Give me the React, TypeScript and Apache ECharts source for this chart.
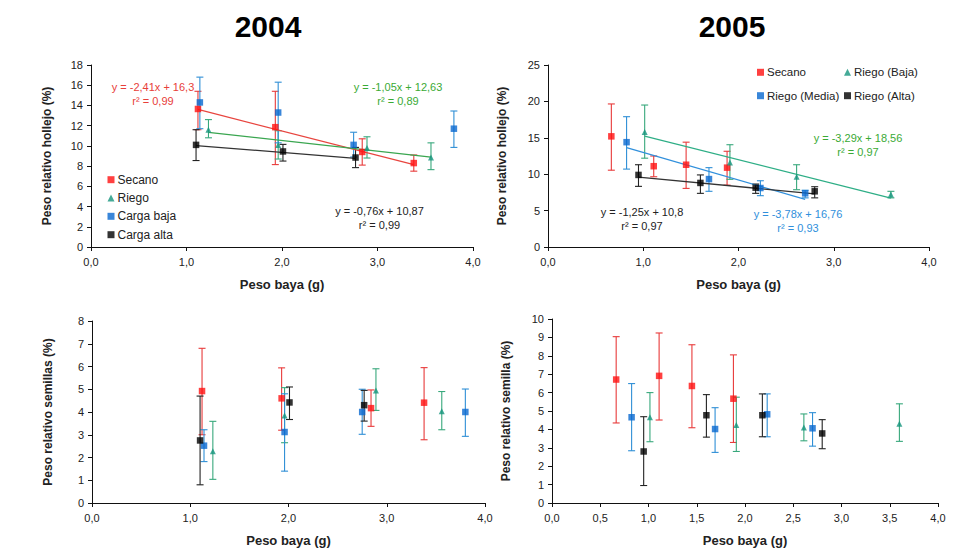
import React, { useEffect, useRef } from "react";
import * as echarts from "echarts";

// ---------- 2004 : x (peso baya, g) ----------
const x04Secano = [1.12, 1.93, 2.84, 3.38];
const x04Riego = [1.23, 1.96, 2.89, 3.56];
const x04Baja = [1.14, 1.96, 2.75, 3.8];
const x04Alta = [1.1, 2.01, 2.77];

// 2004 hollejo
const h04SecanoY = [13.65, 11.85, 9.4, 8.3];
const h04SecanoLo = [11.6, 8.15, 8.1, 7.5];
const h04SecanoHi = [15.4, 15.4, 10.7, 9.1];
const h04RiegoY = [11.6, 10.1, 9.8, 8.85];
const h04RiegoLo = [10.8, 8.7, 8.8, 7.65];
const h04RiegoHi = [12.6, 11.5, 10.9, 10.3];
const h04BajaY = [14.3, 13.3, 10.1, 11.7];
const h04BajaLo = [11.7, 10.3, 8.9, 9.85];
const h04BajaHi = [16.8, 16.3, 11.35, 13.45];
const h04AltaY = [10.1, 9.45, 8.85];
const h04AltaLo = [8.55, 8.5, 7.85];
const h04AltaHi = [11.6, 10.15, 9.85];
const t04Secano = [[1.12, 13.6], [3.38, 8.15]];
const t04Riego = [[1.23, 11.34], [3.56, 8.89]];
const t04Alta = [[1.1, 10.03], [2.77, 8.77]];

// 2004 semillas
const s04SecanoY = [4.92, 4.6, 4.17, 4.41];
const s04SecanoLo = [3.0, 3.2, 3.37, 2.78];
const s04SecanoHi = [6.8, 5.94, 4.97, 5.95];
const s04RiegoY = [2.27, 3.85, 4.95, 4.03];
const s04RiegoLo = [1.04, 2.65, 4.07, 3.22];
const s04RiegoHi = [3.59, 5.07, 5.9, 4.9];
const s04BajaY = [2.52, 3.12, 4.0, 4.0];
const s04BajaLo = [1.82, 1.4, 3.02, 2.93];
const s04BajaHi = [3.22, 4.8, 5.0, 5.01];
const s04AltaY = [2.75, 4.42, 4.3];
const s04AltaLo = [0.8, 3.67, 3.6];
const s04AltaHi = [4.7, 5.1, 4.95];

// ---------- 2005 : x (peso baya, g) ----------
const x05Secano = [0.665, 1.11, 1.45, 1.88];
const x05Baja = [1.015, 1.91, 2.61, 3.6];
const x05Media = [0.825, 1.69, 2.23, 2.7];
const x05Alta = [0.95, 1.6, 2.18, 2.8];

// 2005 hollejo
const h05SecanoY = [15.2, 11.1, 11.3, 10.9];
const h05SecanoLo = [10.55, 9.65, 8.05, 8.5];
const h05SecanoHi = [19.65, 12.5, 14.4, 13.15];
const h05BajaY = [15.8, 11.6, 9.65, 7.2];
const h05BajaLo = [12.2, 9.3, 7.87, 6.75];
const h05BajaHi = [19.5, 14.05, 11.3, 7.65];
const h05MediaY = [14.4, 9.33, 8.1, 7.37];
const h05MediaLo = [10.7, 7.65, 7.05, 6.75];
const h05MediaHi = [17.9, 10.9, 9.1, 7.8];
const h05AltaY = [9.9, 8.8, 8.15, 7.65];
const h05AltaLo = [8.33, 7.37, 7.37, 6.75];
const h05AltaHi = [11.3, 9.9, 8.65, 8.28];
const t05Baja = [[1.015, 15.22], [3.6, 6.72]];
const t05Media = [[0.825, 13.64], [2.7, 6.55]];
const t05Alta = [[0.95, 9.61], [2.8, 7.3]];

// 2005 semilla
const s05SecanoY = [6.71, 6.91, 6.36, 5.67];
const s05SecanoLo = [4.35, 4.51, 4.09, 3.29];
const s05SecanoHi = [9.04, 9.24, 8.6, 8.05];
const s05BajaY = [4.66, 4.24, 4.1, 4.31];
const s05BajaLo = [3.33, 2.8, 3.38, 3.35];
const s05BajaHi = [6.0, 5.75, 4.84, 5.39];
const s05MediaY = [4.66, 4.02, 4.82, 4.06];
const s05MediaLo = [2.84, 2.75, 3.6, 3.09];
const s05MediaHi = [6.49, 5.18, 5.93, 4.91];
const s05AltaY = [2.8, 4.77, 4.77, 3.78];
const s05AltaLo = [0.95, 3.58, 3.6, 2.95];
const s05AltaHi = [4.69, 5.89, 5.93, 4.53];

// ---------- texts ----------
const titles = ["2004", "2005"];
const xName = "Peso baya (g)";
const yNames = [
  "Peso relativo hollejo (%)",
  "Peso relativo hollejo (%)",
  "Peso relativo semillas (%)",
  "Peso relativo semilla (%)",
];
const eq04Secano = ["y = -2,41x + 16,3", "r² = 0,99"];
const eq04Riego = ["y = -1,05x + 12,63", "r² = 0,89"];
const eq04Alta = ["y = -0,76x + 10,87", "r² = 0,99"];
const eq05Baja = ["y = -3,29x + 18,56", "r² = 0,97"];
const eq05Media = ["y = -3,78x + 16,76", "r² = 0,93"];
const eq05Alta = ["y = -1,25x + 10,8", "r² = 0,97"];

// ---------- styles ----------
const FONT = "'Liberation Sans', Arial, sans-serif";
const RED = { mark: "#ff1010", err: "#e83a3a", line: "#e8453f", text: "#e8403a" };
const GREEN = { mark: "#15957d", err: "#38a87c", line: "#3aa650", text: "#3aaa35" };
const GREEN5 = { mark: "#15957d", err: "#38a87c", line: "#2eae86", text: "#3aaa35" };
const BLUE = { mark: "#0868d0", err: "#2f8fd6", line: "#3190dc", text: "#2f8fdc" };
const BLACK = { mark: "#000000", err: "#222222", line: "#333333", text: "#222222" };

const fmt1 = (v: number) => v.toFixed(1).replace(".", ",");

function errRender(color: string) {
  return (params: any, api: any) => {
    const x = api.value(0);
    const lo = api.coord([x, api.value(1)]);
    const hi = api.coord([x, api.value(2)]);
    const w = 3.5;
    const style = { stroke: color, lineWidth: 1.1 };
    return {
      type: "group",
      children: [
        { type: "line", shape: { x1: lo[0], y1: lo[1], x2: hi[0], y2: hi[1] }, style },
        { type: "line", shape: { x1: hi[0] - w, y1: hi[1], x2: hi[0] + w, y2: hi[1] }, style },
        { type: "line", shape: { x1: lo[0] - w, y1: lo[1], x2: lo[0] + w, y2: lo[1] }, style },
      ],
    };
  };
}

function group(
  panel: number,
  name: string,
  xs: number[],
  ys: number[],
  lo: number[],
  hi: number[],
  sty: any,
  symbol: string
) {
  return [
    {
      type: "custom",
      xAxisIndex: panel,
      yAxisIndex: panel,
      renderItem: errRender(sty.err),
      encode: { x: 0, y: [1, 2] },
      data: xs.map((x, i) => [x, lo[i], hi[i]]),
      z: 2,
      silent: true,
    },
    {
      type: "scatter",
      name,
      xAxisIndex: panel,
      yAxisIndex: panel,
      symbol,
      symbolSize: symbol === "triangle" ? 6 : 6.5,
      itemStyle: { color: sty.mark },
      data: xs.map((x, i) => [x, ys[i]]),
      z: 4,
    },
  ];
}

function trend(panel: number, pts: number[][], color: string) {
  return {
    type: "line",
    xAxisIndex: panel,
    yAxisIndex: panel,
    data: pts,
    showSymbol: false,
    symbol: "none",
    lineStyle: { color, width: 1.3 },
    z: 3,
    silent: true,
  };
}

const grids = [
  { left: 91, top: 65, width: 382, height: 182 },
  { left: 548, top: 65, width: 381, height: 182 },
  { left: 92, top: 321, width: 393, height: 182 },
  { left: 552, top: 319, width: 386, height: 184 },
];
const yMax = [18, 25, 8, 10];
const yInt = [2, 5, 1, 1];
const xInt = [1, 1, 1, 0.5];
const yGap = [38, 40, 38, 40];

const axisLine = { show: true, onZero: false, lineStyle: { color: "#111", width: 1 } };
const axisTick = { show: true, length: 4, lineStyle: { color: "#111" } };

const xAxes = grids.map((_, i) => ({
  type: "value",
  gridIndex: i,
  min: 0,
  max: 4,
  interval: xInt[i],
  name: xName,
  nameLocation: "middle",
  nameGap: 31,
  nameTextStyle: { fontWeight: "bold", fontSize: 13, color: "#222", fontFamily: FONT },
  axisLine,
  axisTick,
  splitLine: { show: false },
  axisLabel: { fontSize: 11, color: "#222", margin: 9, formatter: fmt1, fontFamily: FONT },
}));

const yAxes = grids.map((_, i) => ({
  type: "value",
  gridIndex: i,
  min: 0,
  max: yMax[i],
  interval: yInt[i],
  name: yNames[i],
  nameLocation: "middle",
  nameGap: yGap[i],
  nameTextStyle: { fontWeight: "bold", fontSize: 12, color: "#222", fontFamily: FONT },
  axisLine,
  axisTick,
  splitLine: { show: false },
  axisLabel: { fontSize: 11, color: "#222", margin: 8, fontFamily: FONT },
}));

const series: any[] = [
  // panel 0: 2004 hollejo
  ...group(0, "Secano", x04Secano, h04SecanoY, h04SecanoLo, h04SecanoHi, RED, "rect"),
  ...group(0, "Riego", x04Riego, h04RiegoY, h04RiegoLo, h04RiegoHi, GREEN, "triangle"),
  ...group(0, "Carga baja", x04Baja, h04BajaY, h04BajaLo, h04BajaHi, BLUE, "rect"),
  ...group(0, "Carga alta", x04Alta, h04AltaY, h04AltaLo, h04AltaHi, BLACK, "rect"),
  trend(0, t04Secano, RED.line),
  trend(0, t04Riego, GREEN.line),
  trend(0, t04Alta, BLACK.line),
  // panel 1: 2005 hollejo
  ...group(1, "Secano", x05Secano, h05SecanoY, h05SecanoLo, h05SecanoHi, RED, "rect"),
  ...group(1, "Riego (Baja)", x05Baja, h05BajaY, h05BajaLo, h05BajaHi, GREEN5, "triangle"),
  ...group(1, "Riego (Media)", x05Media, h05MediaY, h05MediaLo, h05MediaHi, BLUE, "rect"),
  ...group(1, "Riego (Alta)", x05Alta, h05AltaY, h05AltaLo, h05AltaHi, BLACK, "rect"),
  trend(1, t05Baja, GREEN5.line),
  trend(1, t05Media, BLUE.line),
  trend(1, t05Alta, BLACK.line),
  // panel 2: 2004 semillas
  ...group(2, "Secano", x04Secano, s04SecanoY, s04SecanoLo, s04SecanoHi, RED, "rect"),
  ...group(2, "Riego", x04Riego, s04RiegoY, s04RiegoLo, s04RiegoHi, GREEN, "triangle"),
  ...group(2, "Carga baja", x04Baja, s04BajaY, s04BajaLo, s04BajaHi, BLUE, "rect"),
  ...group(2, "Carga alta", x04Alta, s04AltaY, s04AltaLo, s04AltaHi, BLACK, "rect"),
  // panel 3: 2005 semilla
  ...group(3, "Secano", x05Secano, s05SecanoY, s05SecanoLo, s05SecanoHi, RED, "rect"),
  ...group(3, "Riego (Baja)", x05Baja, s05BajaY, s05BajaLo, s05BajaHi, GREEN5, "triangle"),
  ...group(3, "Riego (Media)", x05Media, s05MediaY, s05MediaLo, s05MediaHi, BLUE, "rect"),
  ...group(3, "Riego (Alta)", x05Alta, s05AltaY, s05AltaLo, s05AltaHi, BLACK, "rect"),
];

const legendSpots: [string, number, number, number][] = [
  ["Secano", 107.5, 173.7, 12],
  ["Riego", 107.5, 192, 12],
  ["Carga baja", 107.5, 210.3, 12],
  ["Carga alta", 107.5, 228.7, 12],
  ["Secano", 757, 66.3, 11.5],
  ["Riego (Baja)", 844, 66.3, 11.5],
  ["Riego (Media)", 757, 89.7, 11.5],
  ["Riego (Alta)", 844, 89.7, 11.5],
];

const legends = legendSpots.map(([name, left, top, fs]) => ({
  data: [name],
  left,
  top,
  padding: 0,
  itemWidth: 7,
  itemHeight: 7,
  selectedMode: false,
  textStyle: { fontSize: fs, color: "#222", fontFamily: FONT, padding: [0, 0, 0, -2] },
}));

function eqText(lines: string[], x: number, y: number, color: string) {
  return lines.map((t, i) => ({
    type: "text",
    x,
    y: y + i * 13.5,
    silent: true,
    style: {
      text: t,
      fill: color,
      font: `11px ${FONT}`,
      textAlign: "center",
      textVerticalAlign: "middle",
    },
  }));
}

const graphics: any[] = [
  {
    type: "text",
    x: 268,
    y: 26,
    style: { text: titles[0], fill: "#000", font: `bold 30px ${FONT}`, textAlign: "center", textVerticalAlign: "middle" },
  },
  {
    type: "text",
    x: 732,
    y: 26,
    style: { text: titles[1], fill: "#000", font: `bold 30px ${FONT}`, textAlign: "center", textVerticalAlign: "middle" },
  },
  ...eqText(eq04Secano, 153, 87.3, RED.text),
  ...eqText(eq04Riego, 398, 87.3, GREEN.text),
  ...eqText(eq04Alta, 379.5, 211, BLACK.text),
  ...eqText(eq05Baja, 858, 138.3, GREEN.text),
  ...eqText(eq05Media, 798, 214.3, BLUE.text),
  ...eqText(eq05Alta, 642, 212.3, BLACK.text),
];

const option: any = {
  animation: false,
  backgroundColor: "#ffffff",
  textStyle: { fontFamily: FONT },
  grid: grids,
  xAxis: xAxes,
  yAxis: yAxes,
  legend: legends,
  series,
  graphic: graphics,
};

export default function App() {
  const ref = useRef<HTMLDivElement>(null);
  useEffect(() => {
    const chart = echarts.init(ref.current!, null, { renderer: "svg" });
    chart.setOption(option);
    return () => chart.dispose();
  }, []);
  return (
    <div
      ref={ref}
      style={{ position: "absolute", left: 0, top: 0, width: 980, height: 560, background: "#fff" }}
    />
  );
}
